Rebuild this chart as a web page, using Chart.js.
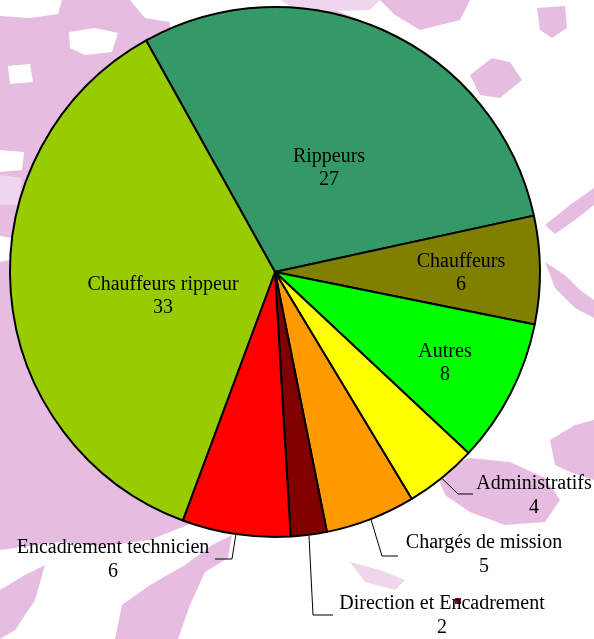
<!DOCTYPE html>
<html>
<head>
<meta charset="utf-8">
<script src="https://cdn.jsdelivr.net/npm/chart.js@4.4.0/dist/chart.umd.min.js"></script>
<style>
  html, body { margin: 0; padding: 0; background: #fff; }
  #wrap { width: 594px; height: 639px; position: relative; }
</style>
</head>
<body>
<div id="wrap"><canvas id="pieChart" width="594" height="639"></canvas></div>
<script>
// effectifs par fonction
const categories = ["Rippeurs", "Chauffeurs", "Autres", "Administratifs", "Chargés de mission",
  "Direction et Encadrement", "Encadrement technicien", "Chauffeurs rippeur"];
const effectifs = [27, 6, 8, 4, 5, 2, 6, 33];
const sliceColors = ["#339966", "#808000", "#00ff00", "#ffff00", "#ff9900", "#800000", "#ff0000", "#99cc00"];

// label placement, offsets from the pie centre (px)
// inside: [dx, dy] of the label block centre
// outside: elbow, end of leader line, text centre of first line
const labelLayout = {
  0: { inside: [54, -104] },
  1: { inside: [186, 1] },
  2: { inside: [170, 91] },
  3: { elbow: [183, 222], end: [198, 222], text: [259, 212] },
  4: { elbow: [107, 284], end: [123, 284], text: [209, 271] },
  5: { elbow: [38, 343], end: [58, 343], text: [167, 332] },
  6: { elbow: [-43, 287], end: [-60, 287], text: [-162, 276] },
  7: { inside: [-112, 24] }
};

// rough map texture behind the chart
const PINK = "#e6bde1";
const LIGHT_PINK = "#f0d6ec";
const pinkShapes = [
  [[0,0],[170,0],[170,400],[0,400]],
  [[0,392],[170,392],[200,520],[150,540],[100,546],[60,542],[30,546],[0,550]],
  [[0,590],[25,575],[45,565],[35,600],[15,630],[0,639]],
  [[115,639],[122,605],[150,585],[185,565],[212,545],[232,535],[228,558],[205,572],[190,605],[178,639]],
  [[300,15],[330,8],[360,20],[390,40],[420,55],[445,75],[432,88],[400,72],[370,52],[335,35]],
  [[380,0],[470,0],[460,20],[420,30],[395,15]],
  [[470,75],[492,58],[510,62],[522,80],[500,98],[480,95]],
  [[537,8],[565,6],[567,28],[552,38],[540,30]],
  [[545,225],[570,205],[594,188],[594,205],[575,220],[555,234]],
  [[545,262],[565,275],[580,290],[594,300],[594,318],[575,308],[555,288]],
  [[550,440],[575,425],[594,420],[594,480],[570,472],[555,465]],
  [[435,470],[470,458],[510,462],[545,478],[560,500],[545,522],[505,525],[470,512],[445,495]],
  [[0,10],[10,30],[0,40]]
];
const lightShapes = [
  [[280,0],[380,0],[370,10],[300,12]],
  [[350,562],[380,570],[405,580],[395,590],[365,582]],
  [[0,175],[22,178],[18,205],[0,205]]
];
const whiteSpots = [
  [[0,0],[62,0],[58,14],[30,18],[0,16]],
  [[69,32],[95,28],[118,33],[112,52],[85,55],[70,48]],
  [[8,66],[30,64],[33,82],[10,84]],
  [[0,150],[24,152],[22,170],[0,172]],
  [[0,236],[12,238],[10,260],[0,262]],
  [[130,0],[170,0],[170,22],[145,18]]
];

const backgroundPlugin = {
  id: "mapBackground",
  beforeDraw(chart) {
    const ctx = chart.ctx;
    ctx.save();
    ctx.fillStyle = "#ffffff";
    ctx.fillRect(0, 0, chart.width, chart.height);
    const fillPoly = (pts, color) => {
      ctx.fillStyle = color;
      ctx.beginPath();
      pts.forEach((p, i) => i ? ctx.lineTo(p[0], p[1]) : ctx.moveTo(p[0], p[1]));
      ctx.closePath();
      ctx.fill();
    };
    pinkShapes.forEach(s => fillPoly(s, PINK));
    lightShapes.forEach(s => fillPoly(s, LIGHT_PINK));
    whiteSpots.forEach(s => fillPoly(s, "#ffffff"));
    // small dark dot on the map
    ctx.fillStyle = "#7a1020";
    ctx.fillRect(455, 598, 6, 6);
    ctx.restore();
  }
};

const labelPlugin = {
  id: "pieLabels",
  afterDatasetsDraw(chart) {
    const ctx = chart.ctx;
    const arcs = chart.getDatasetMeta(0).data;
    ctx.save();
    ctx.font = "20px 'Liberation Serif', 'Times New Roman', serif";
    ctx.fillStyle = "#000";
    ctx.textAlign = "center";
    ctx.textBaseline = "middle";
    ctx.strokeStyle = "#000";
    ctx.lineWidth = 1;
    arcs.forEach((arc, i) => {
      const lay = labelLayout[i];
      const cx = arc.x, cy = arc.y;
      const name = categories[i], val = String(effectifs[i]);
      if (lay.inside) {
        const x = cx + lay.inside[0], y = cy + lay.inside[1];
        ctx.fillText(name, x, y - 11.5);
        ctx.fillText(val, x, y + 11.5);
      } else {
        const mid = (arc.startAngle + arc.endAngle) / 2;
        const r = arc.outerRadius + 1;
        ctx.beginPath();
        ctx.moveTo(cx + Math.cos(mid) * r, cy + Math.sin(mid) * r);
        ctx.lineTo(cx + lay.elbow[0], cy + lay.elbow[1]);
        ctx.lineTo(cx + lay.end[0], cy + lay.end[1]);
        ctx.stroke();
        const x = cx + lay.text[0], y = cy + lay.text[1];
        ctx.fillText(name, x, y);
        ctx.fillText(val, x, y + 24);
      }
    });
    ctx.restore();
  }
};

new Chart(document.getElementById("pieChart"), {
  type: "pie",
  data: {
    labels: categories,
    datasets: [{
      data: effectifs,
      backgroundColor: sliceColors,
      borderColor: "#000",
      borderWidth: 2
    }]
  },
  options: {
    responsive: false,
    animation: false,
    rotation: -29.1,
    layout: { padding: { left: 9, right: 53, top: 6, bottom: 101 } },
    plugins: {
      legend: { display: false },
      tooltip: { enabled: false }
    }
  },
  plugins: [backgroundPlugin, labelPlugin]
});
</script>
</body>
</html>
